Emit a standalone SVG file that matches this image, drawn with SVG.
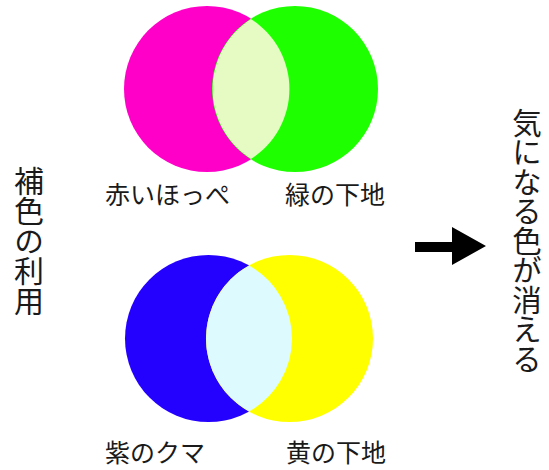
<svg xmlns="http://www.w3.org/2000/svg" width="549" height="470" viewBox="0 0 549 470">
<style>
text{font-family:"Noto Sans CJK JP","Noto Sans CJK SC",sans-serif;fill:#1a1a1a}
.lbl{font-size:25px}
.vt{writing-mode:vertical-rl;text-orientation:upright}
</style>
<rect width="549" height="470" fill="#ffffff"/>
<g id="top-pair">
<circle cx="207" cy="89" r="83" fill="#ff00c8"/>
<circle cx="295" cy="89" r="83" fill="#1eff00"/>
<path d="M251,19 A83,83 0 0 0 251,159 A83,83 0 0 0 251,19 Z" fill="#e5fbc3"/>
</g>
<g id="bottom-pair">
<circle cx="208.5" cy="338.5" r="83.5" fill="#2400ff"/>
<circle cx="289.5" cy="338.5" r="83.5" fill="#ffff00"/>
<path d="M249,265.5 A83.5,83.5 0 0 0 249,411.5 A83.5,83.5 0 0 0 249,265.5 Z" fill="#ddfbff"/>
</g>
<g id="label-akai"><text class="lbl" x="105" y="204">赤いほっぺ</text></g>
<g id="label-midori"><text class="lbl" x="285" y="204">緑の下地</text></g>
<g id="label-murasaki"><text class="lbl" x="105" y="462">紫のクマ</text></g>
<g id="label-ki"><text class="lbl" x="286" y="462">黄の下地</text></g>
<g id="title-left">
<text class="vt" x="29" y="166" font-size="30">補色の利用</text>
</g>
<g id="title-right">
<text class="vt" x="527" y="108" font-size="29.5">気になる色が消える</text>
</g>
<g id="connectors">
<polygon points="415,242 452,242 452,227 486,246 452,265 452,252 415,252" fill="#000000"/>
</g>
</svg>
